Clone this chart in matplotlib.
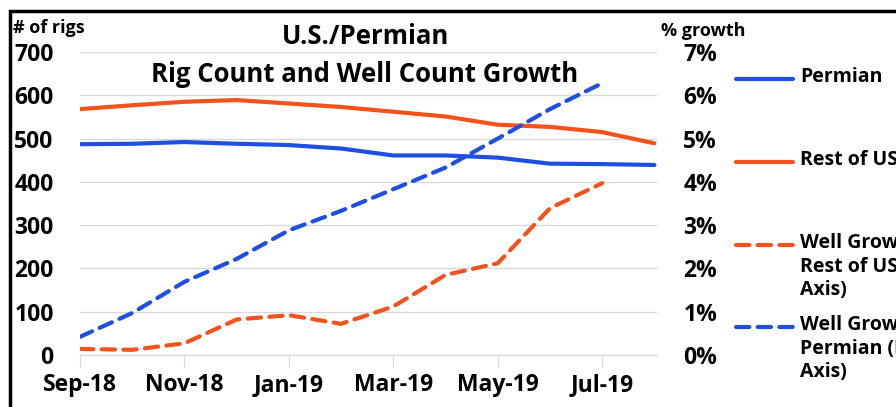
import matplotlib
matplotlib.use("Agg")
from matplotlib import pyplot as plt
from matplotlib.lines import Line2D
from matplotlib.patches import Rectangle

# data
months = ["Sep-18", "Oct-18", "Nov-18", "Dec-18", "Jan-19", "Feb-19",
          "Mar-19", "Apr-19", "May-19", "Jun-19", "Jul-19", "Aug-19"]
permian_rigs = [487, 488, 492, 488, 485, 477, 461, 461, 456, 442, 441, 439]
rest_us_rigs = [568, 577, 585, 589, 581, 573, 562, 551, 532, 527, 515, 489]
growth_rest_us = [0.14, 0.12, 0.27, 0.82, 0.92, 0.72, 1.12, 1.85, 2.12, 3.39, 3.97]
growth_permian = [0.42, 0.97, 1.69, 2.22, 2.88, 3.33, 3.83, 4.33, 5.0, 5.68, 6.28]

BLUE = "#1f4fe0"
ORANGE = "#f2531c"

plt.rcParams["font.family"] = ["Open Sans", "DejaVu Sans"]
plt.rcParams["font.weight"] = "bold"

fig = plt.figure(figsize=(8.96, 4.07), dpi=100)
ax = fig.add_axes([80 / 896, 1 - 355 / 407, 577 / 896, 303 / 407])
ax2 = ax.twinx()

x = list(range(len(months)))
ax.plot(x, permian_rigs, color=BLUE, lw=3, solid_capstyle="round", zorder=3)
ax.plot(x, rest_us_rigs, color=ORANGE, lw=3, solid_capstyle="round", zorder=3)
dash = (0, (3.2, 2.0))
ax2.plot(x[:len(growth_rest_us)], growth_rest_us, color=ORANGE, lw=3,
         linestyle=dash, dash_capstyle="round")
ax2.plot(x[:len(growth_permian)], growth_permian, color=BLUE, lw=3,
         linestyle=dash, dash_capstyle="round")

ax.set_xlim(0, 11.05)
ax.set_ylim(0, 700)
ax2.set_ylim(0, 7)
ax.set_yticks(range(0, 701, 100))
ax2.set_yticks(range(0, 8))
ax2.set_yticklabels([f"{v}%" for v in range(0, 8)])
ax.set_xticks(x[::2])
ax.set_xticklabels(months[::2])

ax.grid(axis="y", color="#d9d9d9", lw=1)
ax.set_axisbelow(True)
for a in (ax, ax2):
    for s in ("top", "left", "right"):
        a.spines[s].set_visible(False)
    a.spines["bottom"].set_color("#d9d9d9")
ax.tick_params(axis="y", length=0, pad=19, labelsize=16.5)
ax2.tick_params(axis="y", length=0, pad=19, labelsize=16.5)
ax.tick_params(axis="x", length=9, color="#d9d9d9", pad=4, labelsize=16.5)

fig.text(13 / 896, 1 - 28 / 407, "# of rigs", fontsize=13, va="center")
fig.text(661 / 896, 1 - 31 / 407, "% growth", fontsize=13, va="center")
fig.text(365 / 896, 1 - 37 / 407, "U.S./Permian", fontsize=18.5, ha="center", va="center")
fig.text(365 / 896, 1 - 75 / 407, "Rig Count and Well Count Growth", fontsize=18.5,
         ha="center", va="center")

# legend drawn by hand so the handles sit on the first text line
entries = [("Permian", BLUE, "-", 79),
           ("Rest of US", ORANGE, "-", 162),
           ("Well Growth -\nRest of US (Right\nAxis)", ORANGE, dash, 245),
           ("Well Growth -\nPermian (Right\nAxis)", BLUE, dash, 327)]
for label, color, ls, y in entries:
    fy = 1 - y / 407
    fig.add_artist(Line2D([736 / 896, 793 / 896], [fy, fy], color=color, lw=3,
                          linestyle=ls, solid_capstyle="round", dash_capstyle="round"))
    fig.text(800 / 896, fy + 12 / 407, label, fontsize=14, va="top", linespacing=1.25)

fig.add_artist(Rectangle((10 / 896, -0.2), 1.2, 1 - 11 / 407 + 0.2, fill=False,
                         edgecolor="black", lw=2.5, transform=fig.transFigure))

fig.savefig("out.png", dpi=100)
